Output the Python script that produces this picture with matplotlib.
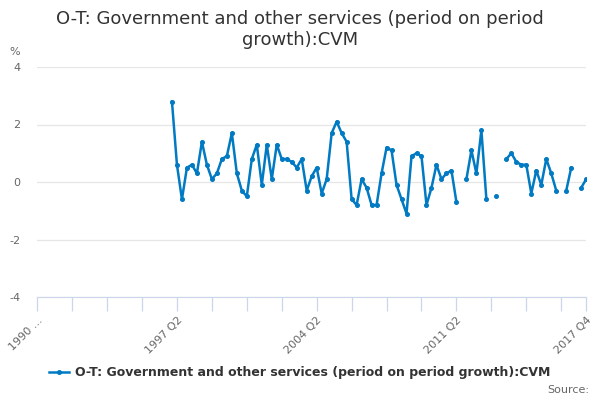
import numpy as np
import matplotlib
matplotlib.use('Agg')
from matplotlib import pyplot as plt

# quarters 1990 Q2 .. 2017 Q4
quarters = []
for yr in range(1990, 2018):
    for q in range(1, 5):
        if yr == 1990 and q == 1:
            continue
        quarters.append('%d Q%d' % (yr, q))

nan = np.nan
# series starts in 1997 Q1, gaps are missing values
growth = [nan] * 27 + [
    2.8, 0.6, -0.6, 0.5, 0.6, 0.3, 1.4, 0.6, 0.1, 0.3, 0.8, 0.9, 1.7, 0.3,
    -0.3, -0.5, 0.8, 1.3, -0.1, 1.3, 0.1, 1.3, 0.8, 0.8, 0.7, 0.5, 0.8, -0.3,
    0.2, 0.5, -0.4, 0.1, 1.7, 2.1, 1.7, 1.4, -0.6, -0.8, 0.1, -0.2, -0.8, -0.8,
    0.3, 1.2, 1.1, -0.1, -0.6, -1.1, 0.9, 1.0, 0.9, -0.8, -0.2, 0.6, 0.1, 0.3,
    0.4, -0.7, nan, 0.1, 1.1, 0.3, 1.8, -0.6, nan, -0.5, nan, 0.8, 1.0, 0.7,
    0.6, 0.6, -0.4, 0.4, -0.1, 0.8, 0.3, -0.3, nan, -0.3, 0.5, nan, -0.2, 0.1]

label_idx = [0, 28, 56, 84, 110]
label_txt = ['1990 ...', '1997 Q2', '2004 Q2', '2011 Q2', '2017 Q4']
y_ticks = [-4, -2, 0, 2, 4]

series_name = 'O-T: Government and other services (period on period growth):CVM'
blue = '#007ac3'

fig = plt.figure(figsize=(6, 4), dpi=100)
ax = fig.add_axes([0.062, 0.2575, 0.915, 0.575])

x = np.arange(len(quarters))
ax.plot(x, growth, color=blue, lw=1.8, marker='o', ms=2.6, label=series_name)

ax.set_xlim(0, len(quarters) - 1)
ax.set_ylim(-4, 4)
ax.set_yticks(y_ticks)
ax.set_yticklabels([str(v) for v in y_ticks], color='#666666', fontsize=8)
ax.tick_params(axis='y', length=0, pad=12)
ax.grid(axis='y', color='#e6e6e6', lw=0.9)
ax.set_axisbelow(True)

ticks = list(range(0, len(quarters), 7)) + [len(quarters) - 1]
ax.set_xticks(ticks)
labels = []
for t in ticks:
    labels.append(label_txt[label_idx.index(t)] if t in label_idx else '')
ax.set_xticklabels(labels, rotation=45, ha='right', rotation_mode='anchor',
                   color='#666666', fontsize=8)
ax.tick_params(axis='x', length=10, color='#ccd6eb', width=0.9, pad=3)

for s in ['top', 'right', 'left']:
    ax.spines[s].set_visible(False)
ax.spines['bottom'].set_color('#ccd6eb')

fig.text(0.5, 0.927, 'O-T: Government and other services (period on period\ngrowth):CVM',
         ha='center', va='center', fontsize=13, color='#333333', linespacing=1.2)
fig.text(0.015, 0.87, '%', fontsize=8, color='#666666', ha='left', va='center')

leg = fig.legend(loc='center', bbox_to_anchor=(0.5, 0.068), frameon=False,
                 prop={'size': 9, 'weight': 'bold'}, handlelength=1.6,
                 handletextpad=0.5)
for t in leg.get_texts():
    t.set_color('#333333')
fig.text(0.982, 0.025, 'Source:', ha='right', va='center', fontsize=8, color='#666666')

fig.savefig('out.png', dpi=100)
